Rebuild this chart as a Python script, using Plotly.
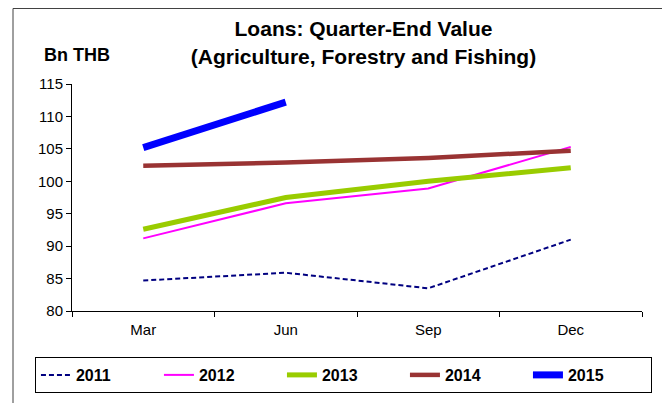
import plotly.graph_objects as go

quarters = ["Mar", "Jun", "Sep", "Dec"]
years = ["2011", "2012", "2013", "2014", "2015"]
loans_2011 = [84.7, 85.9, 83.5, 91.0]
loans_2012 = [91.2, 96.6, 98.9, 105.3]
loans_2013 = [92.6, 97.5, 100.0, 102.1]
loans_2014 = [102.4, 102.9, 103.6, 104.7]
loans_2015 = [105.2, 112.2]

series = [loans_2011, loans_2012, loans_2013, loans_2014, loans_2015]
styles = [
    dict(color="#000080", width=2, dash="5px,3px"),
    dict(color="#FF00FF", width=2),
    dict(color="#99CC00", width=5),
    dict(color="#993333", width=4.5),
    dict(color="#0000FF", width=7),
]

fig = go.Figure()
for year, vals, line in zip(years, series, styles):
    fig.add_trace(go.Scatter(
        x=quarters[:len(vals)], y=vals, name=f"<b>{year}</b>", mode="lines", line=line,
    ))

# the page body adds an 8px margin, so the figure is 8px smaller than the window
fig.update_layout(
    width=662, height=395,
    margin=dict(l=64, r=28, t=76, b=92, autoexpand=False),
    paper_bgcolor="white", plot_bgcolor="white",
    font=dict(family="Liberation Sans, Arial, sans-serif", size=15, color="black"),
    title=dict(
        text="<b>Loans: Quarter-End Value<br>(Agriculture, Forestry and Fishing)</b>",
        x=0.537, xanchor="center", y=0.928, yanchor="top",
        font=dict(size=21),
    ),
    showlegend=True,
    legend=dict(
        orientation="h", x=-0.065, xanchor="left",
        y=-0.2026, yanchor="top",
        bordercolor="black", borderwidth=1,
        font=dict(size=16), entrywidth=78,
        traceorder="normal",
    ),
)
fig.update_xaxes(
    categoryorder="array", categoryarray=quarters,
    range=[-0.5, 3.5],
    showline=True, linecolor="black", linewidth=1,
    ticks="outside", tickson="boundaries", ticklen=5, tickcolor="black",
    ticklabelstandoff=5,
    showgrid=False, zeroline=False,
)
fig.update_yaxes(
    range=[80, 115], dtick=5,
    showline=True, linecolor="black", linewidth=1,
    ticks="outside", ticklen=5, tickcolor="black",
    showgrid=False, zeroline=False,
)

fig.add_annotation(
    text="<b>Bn THB</b>", xref="paper", yref="paper",
    x=0.009, y=1.128, xanchor="center", yanchor="middle",
    showarrow=False, font=dict(size=18),
)
# outer chart border
fig.add_shape(
    type="rect", xref="paper", yref="paper",
    x0=-0.1035, x1=1.0368, y0=-0.5, y1=1.3326,
    line=dict(color="#404040", width=1),
)

fig.write_html("out.html")
